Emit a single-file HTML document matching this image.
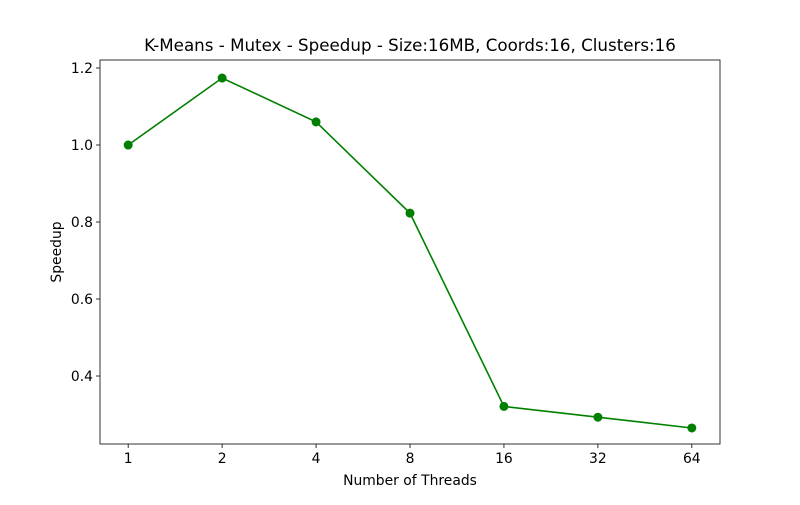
<!DOCTYPE html>
<html><head><meta charset="utf-8"><style>
html,body{margin:0;padding:0;background:#fff;}
svg text{font-family:"DejaVu Sans","Liberation Sans",sans-serif;fill:#000;}
</style></head><body>
<svg id="chart" width="800" height="500" viewBox="0 0 800 500" xmlns="http://www.w3.org/2000/svg">
<rect width="800" height="500" fill="#fff"/>
<text x="410" y="51" font-size="16.7" text-anchor="middle">K-Means - Mutex - Speedup - Size:16MB, Coords:16, Clusters:16</text>
<g id="axes"></g>
<text x="410" y="485" font-size="13.9" text-anchor="middle">Number of Threads</text>
<text x="0" y="0" font-size="13.9" text-anchor="middle" transform="translate(61,252) rotate(-90)">Speedup</text>
</svg>
<script>
const categories = ["1","2","4","8","16","32","64"];
const speedup = [1.0, 1.174, 1.060, 0.823, 0.321, 0.293, 0.265];
const yTicks = [0.4, 0.6, 0.8, 1.0, 1.2];
const yTickLabels = ["0.4","0.6","0.8","1.0","1.2"];

const L=100,R=720,T=60,B=444;
const xMin=-0.3,xMax=categories.length-1+0.3;
const yMin=0.2234,yMax=1.2208;
function xs(i){return L+(i-xMin)/(xMax-xMin)*(R-L);}
function ys(v){return B-(v-yMin)/(yMax-yMin)*(B-T);}
const NS="http://www.w3.org/2000/svg";
const g=document.getElementById('axes');
function mk(tag,attrs,parent){const e=document.createElementNS(NS,tag);for(const k in attrs)e.setAttribute(k,attrs[k]);(parent||g).appendChild(e);return e;}

yTicks.forEach((v,i)=>{
  const y=ys(v);
  const t=mk('line',{x1:L-4,x2:L,y1:y,y2:y,stroke:'#000','stroke-width':0.8});
  
  
  const tx=mk('text',{x:L-7,y:y+4.8,'font-size':13.9,'text-anchor':'end'});
  tx.textContent=yTickLabels[i];
  
  
});
categories.forEach((c,i)=>{
  const x=xs(i);
  const t=mk('line',{x1:x,x2:x,y1:B,y2:B+4,stroke:'#000','stroke-width':0.8});
  
  
  const tx=mk('text',{x:x,y:B+19,'font-size':13.9,'text-anchor':'middle'});
  tx.textContent=c;
  
  
});
const pts=speedup.map((v,i)=>xs(i)+','+ys(v)).join(' ');
const line=mk('polyline',{points:pts,fill:'none',stroke:'#008000','stroke-width':1.6});


speedup.forEach((v,i)=>{
  const c=mk('circle',{cx:xs(i),cy:ys(v),r:4.5,fill:'#008000'});
  
  
});
const frame=mk('rect',{x:L,y:T,width:R-L,height:B-T,fill:'none',stroke:'#000','stroke-width':0.8});


</script>
</body></html>
